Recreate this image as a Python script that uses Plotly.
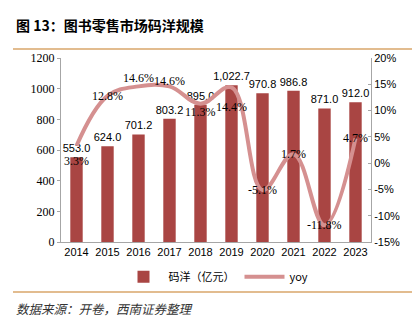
import plotly.graph_objects as go

years = ["2014", "2015", "2016", "2017", "2018", "2019", "2020", "2021", "2022", "2023"]
sales = [553.0, 624.0, 701.2, 803.2, 895.0, 1022.7, 970.8, 986.8, 871.0, 912.0]
yoy = [3.3, 12.8, 14.6, 14.6, 11.3, 14.4, -5.1, 1.7, -11.8, 4.7]
yoy_shift = [-15, 0, 8, 5, -8, -20, 0, 0, 0, 0]
left_ticks = [0, 200, 400, 600, 800, 1000, 1200]
right_ticks = [-15, -10, -5, 0, 5, 10, 15, 20]

bar_color = "#A94543"
line_color = "#D59090"
rule_color = "#D9A66A"
serif = "Liberation Serif, Times New Roman, serif"
sans = "Liberation Sans, Arial, sans-serif"

fig = go.Figure()
fig.add_trace(go.Bar(
    x=years, y=sales, name="码洋（亿元）", marker=dict(color=bar_color, line=dict(width=0)),
    width=0.4, text=[f"{v:,.1f}" for v in sales], textposition="outside", constraintext="none",
    textfont=dict(family=sans, size=11, color="#000"), cliponaxis=False,
))
fig.add_trace(go.Scatter(
    x=years, y=yoy, name="yoy", yaxis="y2", mode="lines",
    line=dict(color=line_color, width=4, shape="spline", smoothing=1.1),
    cliponaxis=False,
))

annos = [
    dict(x=i, y=v, xref="x", yref="y2", text=f"{v:.1f}%", showarrow=False, yshift=s,
         font=dict(family=serif, size=12, color="#000"))
    for i, (v, s) in enumerate(zip(yoy, yoy_shift))
]
annos += [
    dict(text="<b>图 13：图书零售市场码洋规模</b>", xref="paper", yref="paper", x=-47/310, y=1+33/184,
         xanchor="left", yanchor="middle", showarrow=False,
         font=dict(family="Noto Sans CJK SC", size=14, color="#000")),
    dict(text="<i>数据来源：开卷，西南证券整理</i>", xref="paper", yref="paper", x=-47/310, y=-66/184,
         xanchor="left", yanchor="middle", showarrow=False,
         font=dict(family="Noto Sans CJK SC", size=12.5, color="#333")),
]

fig.update_layout(
    width=419, height=324, margin=dict(l=61, r=48, t=58, b=82),
    paper_bgcolor="white", plot_bgcolor="white",
    bargap=0.6, showlegend=True,
    xaxis=dict(type="category", showline=True, linecolor="#A6A6A6", ticks="",
               tickfont=dict(family=sans, size=11, color="#000"), range=[-0.5, 9.5]),
    yaxis=dict(range=[0, 1200], tickvals=left_ticks, showline=True, linecolor="#A6A6A6",
               ticks="outside", ticklen=3, tickcolor="#A6A6A6", showgrid=False, zeroline=False,
               tickfont=dict(family=serif, size=12, color="#000")),
    yaxis2=dict(range=[-15, 20], tickvals=right_ticks, ticktext=[f"{v}%" for v in right_ticks],
                overlaying="y", side="right",
                showline=True, linecolor="#A6A6A6", ticks="inside", ticklen=3, tickcolor="#A6A6A6",
                showgrid=False, zeroline=False,
                tickfont=dict(family=sans, size=11, color="#000")),
    legend=dict(orientation="h", x=0.5, xanchor="center", y=-0.11, yanchor="top",
                font=dict(family="Noto Sans CJK SC, Liberation Sans", size=11, color="#000"),
                itemwidth=40, tracegroupgap=0),
    annotations=annos,
    shapes=[
        dict(type="line", xref="paper", yref="paper", x0=-48/310, x1=351/310, y0=1+9/184, y1=1+9/184,
             line=dict(color=rule_color, width=1.5)),
        dict(type="line", xref="paper", yref="paper", x0=-48/310, x1=351/310, y0=-50/184, y1=-50/184,
             line=dict(color=rule_color, width=1.5)),
    ],
)

fig.write_html("out.html")
